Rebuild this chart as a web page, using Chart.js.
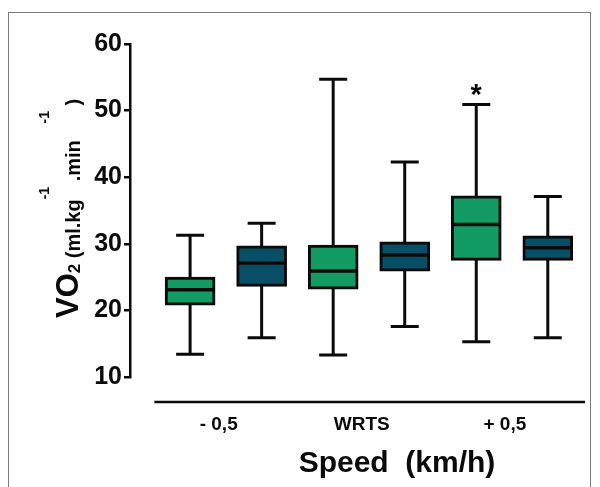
<!DOCTYPE html>
<html><head><meta charset="utf-8">
<script src="https://cdn.jsdelivr.net/npm/chart.js@4.4.0/dist/chart.umd.min.js"></script>
<style>
html,body{margin:0;padding:0;background:#fff;}
#wrap{position:relative;width:600px;height:487px;overflow:hidden;background:#fff;}
#frame{position:absolute;left:8px;top:12px;width:583px;height:490px;border:1px solid #7a7a7a;box-sizing:border-box;}
canvas{position:absolute;left:0;top:0;}
</style></head><body>
<div id="wrap"><div id="frame"></div><canvas id="c" width="600" height="487"></canvas></div>
<script>
// ---- data ----
const categories = ['- 0,5', 'WRTS', '+ 0,5'];
const seriesNames = ['Group A', 'Group B'];
const aMin    = [13.4, 13.3, 15.3];
const aQ1     = [20.8, 23.2, 27.5];
const aMedian = [23.1, 25.9, 32.9];
const aQ3     = [25.0, 29.8, 37.2];
const aMax    = [31.3, 54.7, 50.9];
const aMark   = ['', '', '*'];
const bMin    = [15.9, 17.6, 15.9];
const bQ1     = [23.6, 25.9, 27.5];
const bMedian = [27.1, 28.3, 29.4];
const bQ3     = [29.7, 30.3, 31.2];
const bMax    = [33.1, 42.3, 37.1];
const bMark   = ['', '', ''];
const yTicks  = [10, 20, 30, 40, 50, 60];

// ---- styles ----
const GREEN = '#129c64';
const BLUE  = '#074f66';
const INK   = '#0a0a0a';
const FONT  = '"Liberation Sans", Arial, sans-serif';

function makeSeries(s, name, color, mn, q1, md, q3, mx, mark) {
  return {
    label: name,
    data: categories.map((c, g) => ({ x: 2 * g + s, y: [q1[g], q3[g]] })),
    stats: { min: mn, median: md, max: mx, mark: mark },
    backgroundColor: color,
    borderColor: INK,
    borderWidth: 3,
    borderSkipped: false,
    barThickness: 50,
    grouped: false
  };
}

const boxPlugin = {
  id: 'boxWhiskers',
  beforeDatasetsDraw(chart) {
    const ctx = chart.ctx, y = chart.scales.y;
    ctx.save();
    ctx.strokeStyle = INK; ctx.lineWidth = 3; ctx.lineCap = 'butt';
    chart.data.datasets.forEach((ds, di) => {
      const meta = chart.getDatasetMeta(di);
      meta.data.forEach((el, i) => {
        const x = el.x, yMin = y.getPixelForValue(ds.stats.min[i]), yMax = y.getPixelForValue(ds.stats.max[i]);
        ctx.beginPath();
        ctx.moveTo(x, yMin); ctx.lineTo(x, yMax);
        ctx.moveTo(x - 14, yMin); ctx.lineTo(x + 14, yMin);
        ctx.moveTo(x - 14, yMax); ctx.lineTo(x + 14, yMax);
        ctx.stroke();
      });
    });
    ctx.restore();
  },
  afterDatasetsDraw(chart) {
    const ctx = chart.ctx, y = chart.scales.y;
    ctx.save();
    ctx.strokeStyle = INK; ctx.lineWidth = 3.5;
    chart.data.datasets.forEach((ds, di) => {
      const meta = chart.getDatasetMeta(di);
      meta.data.forEach((el, i) => {
        const half = el.width / 2, ym = y.getPixelForValue(ds.stats.median[i]);
        ctx.beginPath();
        ctx.moveTo(el.x - half + 1, ym); ctx.lineTo(el.x + half - 1, ym);
        ctx.stroke();
        if (ds.stats.mark[i]) {
          ctx.fillStyle = INK;
          ctx.font = 'bold 29px ' + FONT;
          ctx.textAlign = 'center'; ctx.textBaseline = 'alphabetic';
          ctx.fillText(ds.stats.mark[i], el.x, y.getPixelForValue(ds.stats.max[i]) - 1);
        }
      });
    });
    ctx.restore();
  },
  afterDraw(chart) {
    const ctx = chart.ctx, x = chart.scales.x, y = chart.scales.y, area = chart.chartArea;
    ctx.save();
    // detached x axis line
    const ly = y.getPixelForValue(10) + 25;
    ctx.strokeStyle = INK; ctx.lineWidth = 2.5;
    ctx.beginPath();
    ctx.moveTo(x.getPixelForValue(-0.5), ly); ctx.lineTo(area.right, ly);
    ctx.stroke();
    // x title
    ctx.fillStyle = INK;
    ctx.font = 'bold 30px ' + FONT;
    ctx.textAlign = 'center'; ctx.textBaseline = 'middle';
    ctx.fillText('Speed  (km/h)', 397, 464);
    // y title (rotated, rich text)
    ctx.translate(78, 318);
    ctx.rotate(-Math.PI / 2);
    ctx.textAlign = 'left'; ctx.textBaseline = 'alphabetic';
    const pieces = [
      ['VO', 31, 0], ['2', 17, 2], [' (ml.kg', 20, 2], ['-1', 14, -29],
      [' .min', 20, 2], ['   ', 20, 2], ['-1', 14, -29], [' )', 20, 2]
    ];
    let cx = 0;
    pieces.forEach(([t, fs, shift]) => {
      ctx.font = 'bold ' + fs + 'px ' + FONT;
      ctx.fillText(t, cx, shift);
      cx += ctx.measureText(t).width;
    });
    ctx.restore();
  }
};

new Chart(document.getElementById('c'), {
  type: 'bar',
  data: {
    datasets: [
      makeSeries(0, seriesNames[0], GREEN, aMin, aQ1, aMedian, aQ3, aMax, aMark),
      makeSeries(1, seriesNames[1], BLUE,  bMin, bQ1, bMedian, bQ3, bMax, bMark)
    ]
  },
  options: {
    responsive: false,
    animation: false,
    events: [],
    layout: { padding: { left: 0, top: 44, right: 15, bottom: 0 } },
    plugins: { legend: { display: false }, tooltip: { enabled: false } },
    scales: {
      x: {
        type: 'linear',
        offset: false,
        min: -0.84, max: 5.52,
        grid: { display: false, drawTicks: false },
        border: { display: false },
        afterBuildTicks: (s) => { s.ticks = categories.map((c, g) => ({ value: 2 * g + 0.4 })); },
        ticks: {
          autoSkip: false, maxRotation: 0, padding: 36,
          color: INK,
          font: { family: FONT, size: 19, weight: 'bold' },
          callback: (v, i) => categories[i]
        },
        afterFit: (s) => { s.height = 110; }
      },
      y: {
        min: 10, max: 60,
        afterBuildTicks: (s) => { s.ticks = yTicks.map(v => ({ value: v })); },
        grid: { drawOnChartArea: false, drawTicks: true, tickLength: 6, color: INK, lineWidth: 2.5 },
        border: { display: true, color: INK, width: 2.5 },
        ticks: {
          padding: 2, color: INK,
          font: { family: FONT, size: 25, weight: 'bold' }
        },
        afterFit: (s) => { s.width = 130; }
      }
    }
  },
  plugins: [boxPlugin]
});
</script>
</body></html>
